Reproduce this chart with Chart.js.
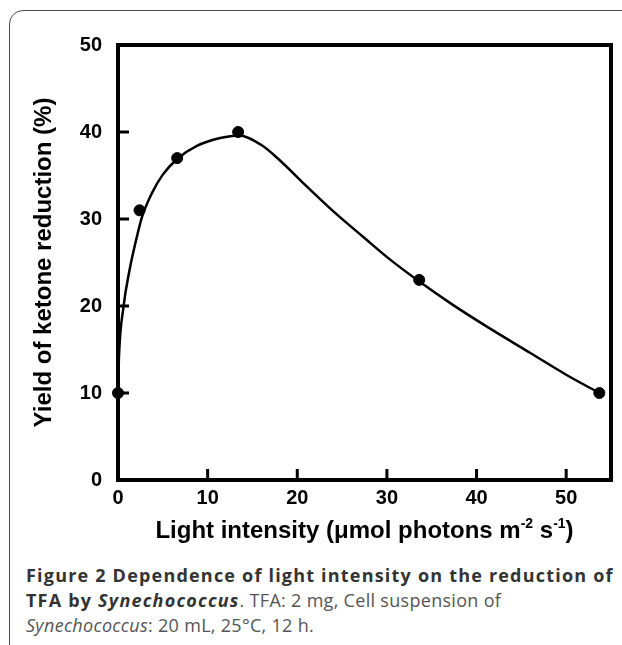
<!DOCTYPE html>
<html>
<head>
<meta charset="utf-8">
<script src="https://cdn.jsdelivr.net/npm/chart.js@4.4.1/dist/chart.umd.min.js"></script>
<style>
    html, body { margin: 0; padding: 0; background: #fff; }
    body { width: 622px; height: 645px; overflow: hidden; position: relative; }
    #frame {
        position: absolute; left: 9px; top: 10px; width: 700px; height: 700px;
        border: 1.5px solid #4a4a4a; border-radius: 14px; box-sizing: border-box;
    }
    #chart { position: absolute; left: 0; top: 0; }
    #caption {
        position: absolute; left: 26px; top: 563px;
        font-family: "Open Sans", sans-serif; font-size: 18px; line-height: 25px;
        color: #555; white-space: nowrap; letter-spacing: 0.3px;
    }
    #caption b { color: #333; letter-spacing: 1.2px; }
</style>
</head>
<body>
<div id="frame"></div>
<canvas id="chart" width="622" height="560"></canvas>
<div id="caption">
    <b>Figure 2 Dependence of light intensity on the reduction of</b><br>
    <b>TFA by <i>Synechococcus</i></b>. TFA: 2 mg, Cell suspension of<br>
    <i>Synechococcus</i>: 20 mL, 25°C, 12 h.
</div>
<script>
// measured points
var lightIntensity = [0, 2.4, 6.6, 13.4, 33.6, 53.7];
var ketoneYield = [10, 31, 37, 40, 23, 10];

// fitted curve
var fitX = [0, 0.1, 0.6, 1.3, 2.0, 2.7, 3.8, 5.0, 6.6, 8.8, 11.4, 13.5, 16.0, 18.1, 21.0, 24.0, 27.4, 30.4, 33.5, 37.4, 41.2, 46.0, 50.0, 53.7];
var fitY = [10, 14, 19.8, 24.2, 27.5, 30.3, 33.0, 35.1, 36.9, 38.4, 39.3, 39.6, 38.5, 36.7, 33.8, 30.9, 27.9, 25.3, 22.9, 20.1, 17.6, 14.6, 12.1, 10];

var xTicks = [0, 10, 20, 30, 40, 50];
var yTicks = [0, 10, 20, 30, 40, 50];

var font = '"Liberation Sans", Arial, sans-serif';

function pairs(xs, ys) {
    return xs.map(function (x, i) { return { x: x, y: ys[i] }; });
}

// box round the plot, inward ticks and the x title with superscripts
var boxPlugin = {
    id: 'box',
    beforeDatasetsDraw: function (chart) {
        var ctx = chart.ctx, a = chart.chartArea;
        var xs = chart.scales.x, ys = chart.scales.y;
        ctx.save();
        ctx.strokeStyle = '#000';
        ctx.lineWidth = 3;
        ctx.beginPath();
        xTicks.forEach(function (v) {
            var px = xs.getPixelForValue(v);
            ctx.moveTo(px, a.bottom);
            ctx.lineTo(px, a.bottom - 11);
        });
        yTicks.forEach(function (v) {
            var py = ys.getPixelForValue(v);
            ctx.moveTo(a.left, py);
            ctx.lineTo(a.left + 11, py);
        });
        ctx.stroke();
        ctx.lineWidth = 4;
        ctx.strokeRect(a.left, a.top, a.right - a.left, a.bottom - a.top);
        ctx.restore();
    },
    afterDraw: function (chart) {
        var ctx = chart.ctx, a = chart.chartArea;
        var parts = [
            ['Light intensity (\u03bcmol photons m', false],
            ['-2', true],
            [' s', false],
            ['-1', true],
            [')', false]
        ];
        var big = 'bold 24px ' + font, small = 'bold 14px ' + font;
        ctx.save();
        ctx.fillStyle = '#000';
        ctx.textBaseline = 'alphabetic';
        ctx.textAlign = 'left';
        var total = 0;
        parts.forEach(function (p) {
            ctx.font = p[1] ? small : big;
            total += ctx.measureText(p[0]).width;
        });
        var x = (a.left + a.right) / 2 - total / 2;
        var y = 538;
        parts.forEach(function (p) {
            ctx.font = p[1] ? small : big;
            ctx.fillText(p[0], x, p[1] ? y - 10 : y);
            x += ctx.measureText(p[0]).width;
        });
        ctx.restore();
    }
};

var chart = new Chart(document.getElementById('chart').getContext('2d'), {
    type: 'scatter',
    data: {
        datasets: [{
            // smooth fit
            type: 'line',
            data: pairs(fitX, fitY),
            borderColor: '#000',
            borderWidth: 2.5,
            pointRadius: 0,
            cubicInterpolationMode: 'monotone',
            fill: false,
            clip: false
        }, {
            data: pairs(lightIntensity, ketoneYield),
            backgroundColor: '#000',
            borderColor: '#000',
            pointRadius: 5.5,
            showLine: false,
            clip: false
        }]
    },
    options: {
        responsive: false,
        animation: false,
        devicePixelRatio: 1,
        layout: { padding: { left: 0, top: 45, right: 11, bottom: 0 } },
        plugins: { legend: { display: false }, tooltip: { enabled: false } },
        scales: {
            x: {
                type: 'linear',
                min: 0,
                max: 55,
                afterBuildTicks: function (scale) {
                    scale.ticks = xTicks.map(function (v) { return { value: v }; });
                },
                afterFit: function (scale) { scale.height = 80; },
                grid: { display: false, drawTicks: false },
                border: { display: false },
                ticks: {
                    color: '#000',
                    padding: 6,
                    font: { family: font, size: 20, weight: 'bold' }
                }
            },
            y: {
                type: 'linear',
                min: 0,
                max: 50,
                afterBuildTicks: function (scale) {
                    scale.ticks = yTicks.map(function (v) { return { value: v }; });
                },
                afterFit: function (scale) { scale.width = 118; },
                grid: { display: false, drawTicks: false },
                border: { display: false },
                ticks: {
                    color: '#000',
                    padding: 16,
                    font: { family: font, size: 20, weight: 'bold' }
                },
                title: {
                    display: true,
                    text: 'Yield of ketone reduction (%)',
                    color: '#000',
                    padding: { top: 30, bottom: 0 },
                    font: { family: font, size: 24, weight: 'bold' }
                }
            }
        }
    },
    plugins: [boxPlugin]
});
</script>
</body>
</html>
